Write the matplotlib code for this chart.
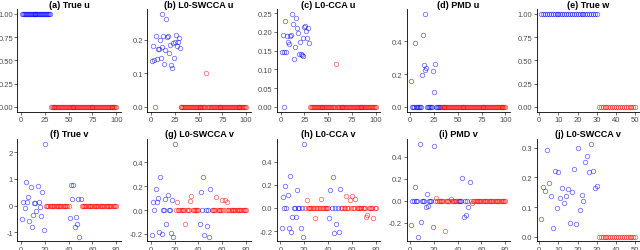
import numpy as np
import matplotlib.pyplot as plt

plt.rcParams['font.family'] = ['Liberation Sans', 'DejaVu Sans']

# ---- data -------------------------------------------------------------
# u has 100 entries (1..30 signal), v has 80 (1..20 and 41..50 signal),
# w has 50 (1..30 signal). "noise" dicts list the non-zero noise entries.
n_u, n_v, n_w = 100, 80, 50
u_signal = list(range(1, 31))
v_signal = list(range(1, 21)) + list(range(41, 51))
w_signal = list(range(1, 31))

true_u_sig = [1.0] * 30
true_u_noise = {}

swcca_u_sig = [0.137, 0.182, 0.139, 0.0, 0.210, 0.144, 0.172, 0.172, 0.200, 0.147,
               0.179, 0.277, 0.210, 0.128, 0.170, 0.262, 0.209, 0.212, 0.161, 0.185,
               0.126, 0.117, 0.191, 0.147, 0.192, 0.215, 0.182, 0.192, 0.205, 0.175]
swcca_u_noise = {58: 0.101}

l0cca_u_sig = [0.147, 0.193, 0.146, 0.0, 0.228, 0.146, 0.190, 0.174, 0.168, 0.190,
               0.193, 0.248, 0.221, 0.128, 0.161, 0.238, 0.210, 0.196, 0.141, 0.174,
               0.141, 0.138, 0.185, 0.137, 0.212, 0.217, 0.202, 0.185, 0.210, 0.171]
l0cca_u_noise = {58: 0.115}

pmd_u_sig = [0.159, 0.0, 0.0, 0.0, 0.388, 0.0, 0.0, 0.0, 0.0, 0.0,
             0.0, 0.193, 0.437, 0.256, 0.226, 0.565, 0.236, 0.0, 0.0, 0.0,
             0.0, 0.0, 0.0, 0.217, 0.091, 0.260, 0.0, 0.0, 0.0, 0.0]
pmd_u_noise = {}

true_w_sig = [1.0] * 30
true_w_noise = {}

true_v_sig = [-0.49, 0.14, -0.08, 0.89, 0.12, 0.31, -0.58, 0.71, -0.82, -0.36,
              0.09, 0.11, -0.19, 0.75, 0.14, -0.04, -0.38, 0.52, -0.91, 2.31,
              -0.45, 0.78, 0.26, 0.78, -0.81, -0.44, -0.70, 0.23, -1.17, 0.25]
true_v_noise = {}

swcca_v_sig = [-0.210, 0.070, 0.0, 0.175, 0.070, 0.105, -0.185, 0.280, -0.200, 0.0,
               0.0, 0.090, -0.120, 0.127, 0.0, 0.0, -0.190, 0.080, -0.225, 0.555,
               -0.120, 0.152, 0.0, 0.280, -0.210, 0.0, -0.130, 0.0, -0.225, 0.180]
swcca_v_noise = {22: 0.068, 29: -0.120, 33: 0.073, 34: 0.118,
                 55: 0.113, 60: 0.085, 62: 0.085, 64: 0.070}

l0cca_v_sig = [-0.175, 0.096, 0.0, 0.190, 0.0, 0.116, -0.170, 0.275, -0.210, -0.075,
               0.0, 0.0, -0.080, 0.157, 0.0, 0.0, -0.175, 0.0, -0.250, 0.555,
               -0.087, 0.154, 0.0, 0.272, -0.215, 0.0, -0.142, 0.0, -0.206, 0.168]
l0cca_v_noise = {22: 0.070, 29: -0.085, 34: 0.075, 55: 0.104, 58: 0.067,
                 60: 0.104, 63: 0.081, 72: -0.075, 73: -0.061, 78: -0.087}

pmd_v_sig = [-0.225, 0.0, 0.0, 0.120, 0.0, 0.0, -0.330, 0.515, -0.195, 0.0,
             0.0, 0.0, -0.060, 0.058, -0.050, 0.0, 0.0, 0.0, -0.240, 0.495,
             0.0, 0.0, 0.0, 0.207, -0.150, 0.0, -0.130, 0.0, -0.058, 0.165]
pmd_v_noise = {22: 0.020, 29: -0.280, 34: 0.012, 52: -0.024}

swcca_w_sig = [0.059, 0.167, 0.155, 0.293, 0.182, 0.137, 0.029, 0.223, 0.096, 0.217,
               0.130, 0.163, 0.113, 0.137, 0.162, 0.046, 0.150, 0.228, 0.042, 0.300,
               0.092, 0.141, 0.121, 0.251, 0.273, 0.217, 0.313, 0.220, 0.164, 0.170]
swcca_w_noise = {}

panels = [
    ("(a) True u", n_u, u_signal, true_u_sig, true_u_noise, [0, 25, 50, 75, 100], [0, 0.25, 0.5, 0.75, 1.0], "%.2f"),
    ("(b) L0-SWCCA u", n_u, u_signal, swcca_u_sig, swcca_u_noise, [0, 25, 50, 75, 100], [0, 0.1, 0.2], "%.1f"),
    ("(c) L0-CCA u", n_u, u_signal, l0cca_u_sig, l0cca_u_noise, [0, 25, 50, 75, 100], [0, 0.05, 0.1, 0.15, 0.2, 0.25], "%.2f"),
    ("(d) PMD u", n_u, u_signal, pmd_u_sig, pmd_u_noise, [0, 25, 50, 75, 100], [0, 0.2, 0.4], "%.1f"),
    ("(e) True w", n_w, w_signal, true_w_sig, true_w_noise, [0, 10, 20, 30, 40, 50], [0, 0.25, 0.5, 0.75, 1.0], "%.2f"),
    ("(f) True v", n_v, v_signal, true_v_sig, true_v_noise, [0, 20, 40, 60, 80], [-1, 0, 1, 2], "%d"),
    ("(g) L0-SWCCA v", n_v, v_signal, swcca_v_sig, swcca_v_noise, [0, 20, 40, 60, 80], [-0.2, 0, 0.2, 0.4], "%.1f"),
    ("(h) L0-CCA v", n_v, v_signal, l0cca_v_sig, l0cca_v_noise, [0, 20, 40, 60, 80], [-0.2, 0, 0.2, 0.4], "%.1f"),
    ("(i) PMD v", n_v, v_signal, pmd_v_sig, pmd_v_noise, [0, 20, 40, 60, 80], [-0.2, 0, 0.2, 0.4], "%.1f"),
    ("(j) L0-SWCCA v", n_w, w_signal, swcca_w_sig, swcca_w_noise, [0, 10, 20, 30, 40, 50], [0, 0.1, 0.2, 0.3], "%.1f"),
]

# ---- layout -----------------------------------------------------------
fig = plt.figure(figsize=(6.4, 2.51), dpi=100)
col_x = [0.0273, 0.2302, 0.4327, 0.6352, 0.8383]
row_y = [0.5514, 0.0339]
w, h = 0.1617, 0.4075

for k, (title, n, sig_idx, sig_vals, noise, xt, yt, fmt) in enumerate(panels):
    ax = fig.add_axes([col_x[k % 5], row_y[k // 5], w, h])
    noise_idx = [i for i in range(1, n + 1) if i not in sig_idx]
    noise_vals = [noise.get(i, 0.0) for i in noise_idx]
    ax.plot(noise_idx, noise_vals, 'o', ms=3.2, mfc='none', mec='red', mew=0.6, alpha=0.55)
    ax.plot(sig_idx, sig_vals, 'o', ms=3.2, mfc='none', mec='blue', mew=0.6, alpha=0.55)
    ax.margins(0.05)
    ax.set_xticks(xt)
    ax.set_yticks(yt)
    ax.set_yticklabels([fmt % v for v in yt])
    ax.set_title(title, fontsize=6.5, fontweight='bold', pad=2)
    for s in ['top', 'right']:
        ax.spines[s].set_visible(False)
    for s in ['left', 'bottom']:
        ax.spines[s].set_linewidth(0.6)
    ax.tick_params(labelsize=5.5, labelcolor='#4d4d4d', color='#333333',
                   length=2, width=0.5, pad=1.2)

fig.savefig('out.png', dpi=100)
